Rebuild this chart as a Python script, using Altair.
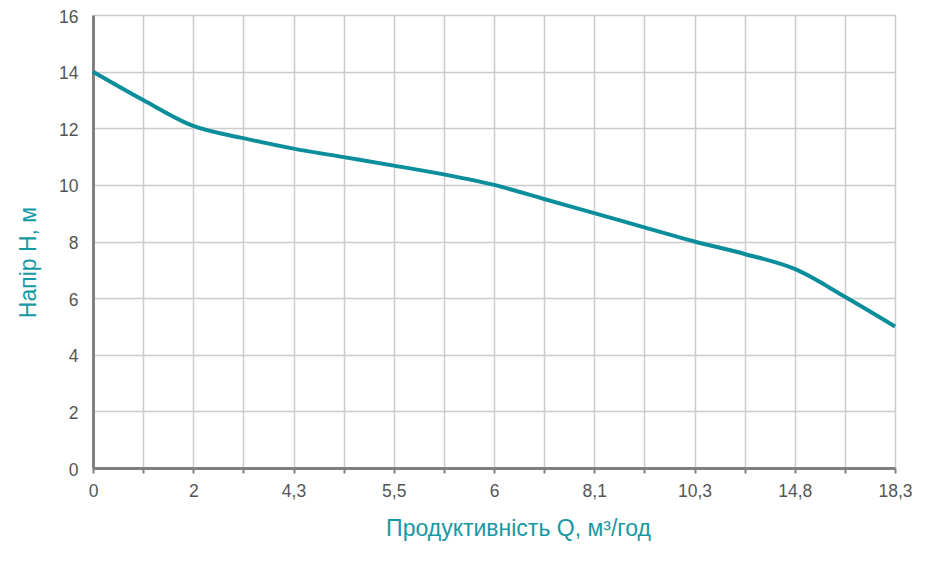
import altair as alt
import pandas as pd

# Tick labels at every grid position (only even positions labelled)
tick_labels = ["0", "", "2", "", "4,3", "", "5,5", "", "6", "", "8,1", "", "10,3", "", "14,8", "", "18,3"]
positions = list(range(17))
head = [14.0, 13.0, 12.08, 11.65, 11.28, 10.98, 10.68, 10.37, 10.0, 9.5, 9.0, 8.5, 8.0, 7.56, 7.03, 6.05, 5.0]

df = pd.DataFrame({"pos": positions, "head": head})

label_arr = "[" + ",".join("'" + t + "'" for t in tick_labels) + "]"

teal_line = "#0b8e9b"
teal_text = "#1799a3"
font = "Liberation Sans"

chart = alt.Chart(df).mark_line(
    color=teal_line, strokeWidth=4, interpolate="monotone"
).encode(
    x=alt.X(
        "pos:Q",
        scale=alt.Scale(domain=[0, 16], nice=False, zero=False),
        axis=alt.Axis(
            values=positions,
            labelExpr=label_arr + "[datum.value]",
            title="Продуктивність Q, м³/год",
            titleColor=teal_text,
            titleFontSize=23,
            titleFontWeight="normal",
            titleFont=font,
            titlePadding=18,
            titleX=425,
            labelFont=font,
            labelFontSize=17.5,
            labelColor="#555555",
            labelPadding=9,
            tickSize=5,
            tickColor="#808080",
            tickWidth=2,
            domainColor="#808080",
            domainWidth=3,
            gridColor="#cccccc",
            gridWidth=1.5,
            labelFlush=False,
        ),
    ),
    y=alt.Y(
        "head:Q",
        scale=alt.Scale(domain=[0, 16], nice=False),
        axis=alt.Axis(
            values=[0, 2, 4, 6, 8, 10, 12, 14, 16],
            title="Напір H, м",
            titleColor=teal_text,
            titleFontSize=23,
            titleFontWeight="normal",
            titleFont=font,
            titlePadding=18,
            titleY=247,
            labelFont=font,
            labelFontSize=17.5,
            labelColor="#555555",
            labelPadding=15,
            labelOffset=2,
            ticks=False,
            domainColor="#808080",
            domainWidth=3,
            gridColor="#cccccc",
            gridWidth=1.5,
        ),
    ),
).properties(
    width=802,
    height=453,
    autosize=alt.AutoSizeParams(type="none"),
    padding={"left": 85, "top": 7, "right": 40, "bottom": 80},
).configure_view(
    stroke="#858585", strokeWidth=3
).configure(background="white")

chart.save("out.html", embed_options={"renderer": "svg", "actions": False})
